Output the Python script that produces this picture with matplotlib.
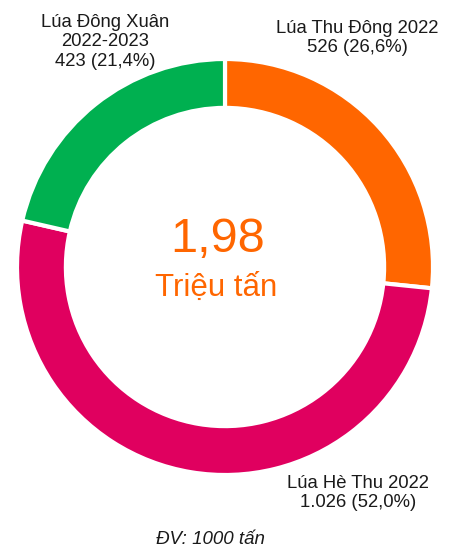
import matplotlib.pyplot as plt

labels = ['Lúa Thu Đông 2022', 'Lúa Hè Thu 2022', 'Lúa Đông Xuân\n2022-2023']
values = [526, 1026, 423]
percents = ['26,6%', '52,0%', '21,4%']
value_text = ['526', '1.026', '423']
colors = ['#FF6600', '#E0005F', '#00B050']
total_text = '1,98'
unit_text = 'Triệu tấn'
note = 'ĐV: 1000 tấn'

W, H = 452, 548
plt.rcParams['font.family'] = ['Liberation Sans', 'DejaVu Sans']
fig = plt.figure(figsize=(W / 100, H / 100), dpi=100)

cx, cy, R = 225, 267, 208
ax = fig.add_axes([(cx - R) / W, (H - cy - R) / H, 2 * R / W, 2 * R / H])
ax.pie(values, colors=colors, startangle=90, counterclock=False,
       wedgeprops=dict(width=0.235, edgecolor='white', linewidth=3))
ax.set_xlim(-1, 1)
ax.set_ylim(-1, 1)
ax.set_aspect('equal')
ax.axis('off')

def px(x, y):
    return x / W, 1 - y / H

# slice labels, positions in pixels
label_pos = [(357, 38), (358, 493), (105, 42)]
for lab, v, p, (x, y) in zip(labels, value_text, percents, label_pos):
    fig.text(*px(x, y), f'{lab}\n{v} ({p})', ha='center', va='center',
             fontsize=13.3, color='#1a1a1a', linespacing=1.2)

fig.text(*px(218, 240), total_text, ha='center', va='center',
         fontsize=35, color='#FF6600')
fig.text(*px(216, 288), unit_text, ha='center', va='center',
         fontsize=22.5, color='#FF6600')
fig.text(*px(210, 540), note, ha='center', va='center',
         fontsize=13.5, style='italic', color='#1a1a1a')

fig.savefig('out.png', dpi=100)
